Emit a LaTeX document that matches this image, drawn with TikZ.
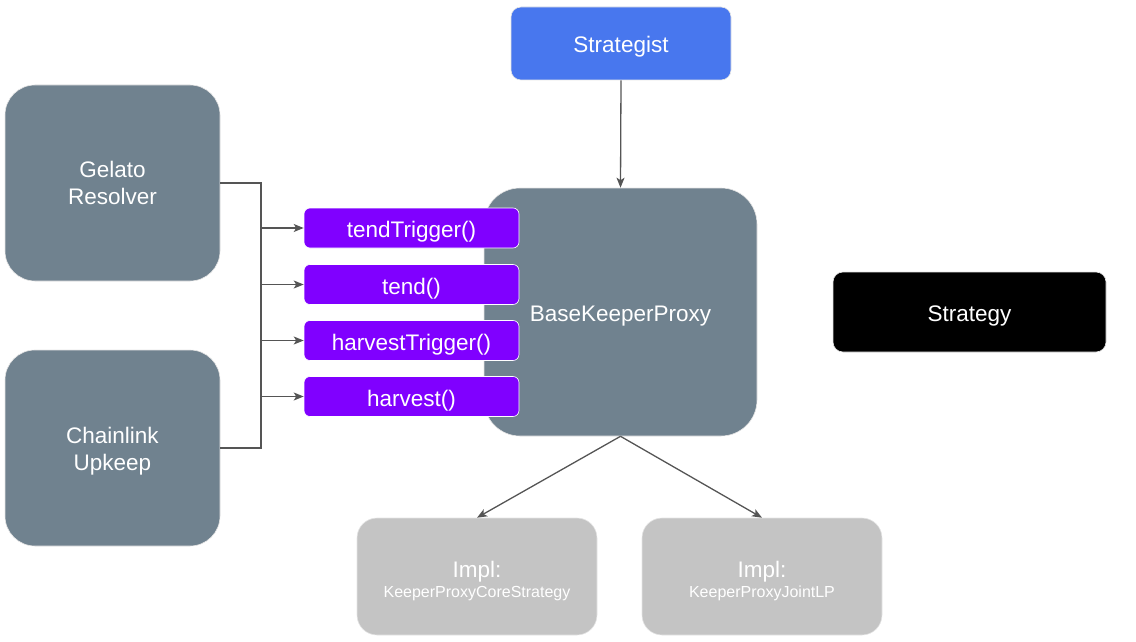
\documentclass[tikz,border=0pt]{standalone}
\usepackage{fontspec}
\setmainfont{Liberation Sans}
\usetikzlibrary{arrows.meta}
\definecolor{slate}{RGB}{112,130,143}
\definecolor{bluebox}{RGB}{72,119,238}
\definecolor{purp}{RGB}{128,0,255}
\definecolor{implgray}{RGB}{196,196,196}
\definecolor{linec}{RGB}{85,85,85}
\tikzset{
  box/.style={rectangle, inner sep=0pt, text=white, align=center, draw=white!90!black, line width=0.6pt,
    font=\fontsize{22.5}{27}\selectfont},
  onebox/.style={box, text height=23.5pt, text depth=4.5pt},
  slatebox/.style={box, fill=slate, minimum width=215pt, minimum height=196pt, rounded corners=30pt},
  fnbox/.style={onebox, fill=purp, minimum width=215pt, minimum height=40pt, rounded corners=6pt, draw=white},
  implbox/.style={box, fill=implgray, minimum width=240pt, minimum height=117pt, rounded corners=20pt},
  conn/.style={draw=linec, line width=1.3pt},
  arr/.style={conn, -{Stealth[length=10pt,width=8pt,inset=2.5pt]}},
}
\begin{document}
\begin{tikzpicture}[x=1pt,y=-1pt]
\useasboundingbox (0,0) rectangle (1136,642);
\node[onebox, fill=bluebox, minimum width=220pt, minimum height=73pt, rounded corners=10pt] (strat) at (621,43.5) {Strategist};
\node[slatebox] (gel) at (112.5,183) {Gelato\\Resolver};
\node[slatebox] (chn) at (112.5,448) {\rule{0pt}{22pt}Chainlink\\Upkeep};
\node[onebox, fill=slate, minimum width=273pt, minimum height=248pt, rounded corners=36pt] (base) at (620.5,312) {BaseKeeperProxy};
\node[onebox, fill=black, minimum width=273pt, minimum height=80pt, rounded corners=10pt] (sty) at (969.5,312) {Strategy};
\node[fnbox] (tt) at (411.5,228) {tendTrigger()};
\node[fnbox] (td) at (411.5,284.5) {tend()};
\node[fnbox] (ht) at (411.5,340.5) {harvestTrigger()};
\node[fnbox] (hv) at (411.5,396.5) {harvest()};
\node[implbox] (il) at (477,576.5) {\rule{0pt}{25pt}Impl:\\[-7pt]{\fontsize{16}{19}\selectfont KeeperProxyCoreStrategy}};
\node[implbox] (ir) at (762,576.5) {\rule{0pt}{25pt}Impl:\\[-7pt]{\fontsize{16}{19}\selectfont KeeperProxyJointLP}};
\coordinate (bt) at (261,183);
\coordinate (bb) at (261,448);
\draw[conn] (gel.east) -- (bt) -- (bb) -- (chn.east);
\draw[arr] (tt.west -| bt) -- (tt.west);
\draw[arr] (td.west -| bt) -- (td.west);
\draw[arr] (ht.west -| bt) -- (ht.west);
\draw[arr] (hv.west -| bt) -- (hv.west);
\draw[arr] (strat.south) -- (base.north);
\draw[arr] (base.south) -- (il.north);
\draw[arr] (base.south) -- (ir.north);
\end{tikzpicture}
\end{document}
